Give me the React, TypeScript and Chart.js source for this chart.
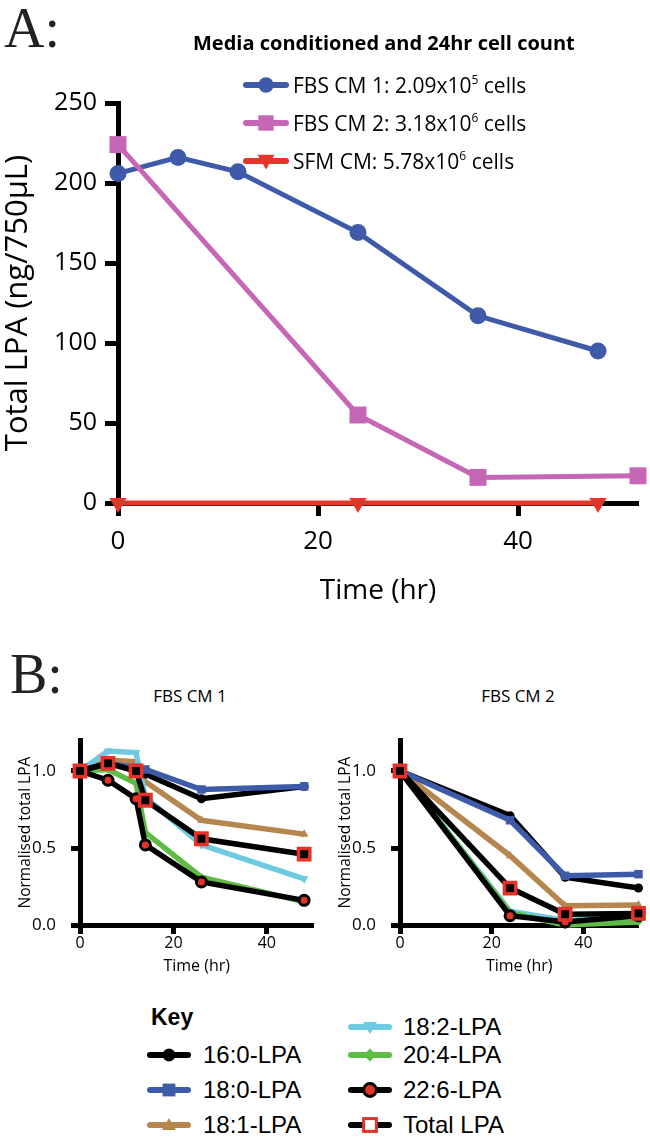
import React, { useEffect, useRef } from "react";
import { Chart, registerables } from "chart.js";
Chart.register(...registerables);

// ---------- Panel A data ----------
const timeA_cm1 = [0, 6, 12, 24, 36, 48];
const lpaA_cm1 = [206, 216, 207, 169, 117, 95];
const timeA_cm2 = [0, 24, 36, 52];
const lpaA_cm2 = [224, 55, 16, 17];
const timeA_sfm = [0, 24, 48];
const lpaA_sfm = [0, 0, 0];
const xTicksA = [0, 20, 40];
const yTicksA = [0, 50, 100, 150, 200, 250];
const legendA = [
  { name: "FBS CM 1", count: "2.09x10", exp: "5" },
  { name: "FBS CM 2", count: "3.18x10", exp: "6" },
  { name: "SFM CM", count: "5.78x10", exp: "6" },
];

// ---------- Panel B data ----------
const speciesNames = ["16:0-LPA", "18:0-LPA", "18:1-LPA", "18:2-LPA", "20:4-LPA", "22:6-LPA", "Total LPA"];
const timeB1 = [0, 6, 12, 14, 26, 48];
const b1_160 = [1.0, 1.05, 1.01, 0.98, 0.82, 0.9];
const b1_180 = [1.0, 1.05, 1.02, 1.01, 0.88, 0.9];
const b1_181 = [1.0, 1.07, 1.06, 0.93, 0.68, 0.59];
const b1_182 = [1.0, 1.13, 1.12, 0.83, 0.52, 0.3];
const b1_204 = [1.0, 1.01, 0.92, 0.6, 0.31, 0.15];
const b1_226 = [1.0, 0.94, 0.82, 0.52, 0.28, 0.16];
const b1_total = [1.0, 1.05, 1.0, 0.81, 0.56, 0.46];

const timeB2 = [0, 24, 36, 52];
const b2_160 = [1.0, 0.71, 0.31, 0.24];
const b2_180 = [1.0, 0.68, 0.32, 0.33];
const b2_181 = [1.0, 0.45, 0.125, 0.13];
const b2_182 = [1.0, 0.09, 0.03, 0.06];
const b2_204 = [1.0, 0.08, 0.0, 0.02];
const b2_226 = [1.0, 0.06, 0.02, 0.06];
const b2_total = [1.0, 0.24, 0.07, 0.075];
const xTicksB = [0, 20, 40];
const yTicksB = [0, 0.5, 1.0];

// ---------- styles ----------
const FONT = "'Open Sans', sans-serif";
const KEY_FONT = "'Liberation Sans', Arial, sans-serif";
const SERIF = "'Liberation Serif', 'Times New Roman', serif";
const blueA = "#3F5AA8";
const pinkA = "#C566B6";
const redA = "#E8352B";
const cBlack = "#000000";
const cBlue = "#3E5BAA";
const cBrown = "#B5864E";
const cCyan = "#6DCAE0";
const cGreen = "#5EBB46";
const cRed = "#E53228";

type Marker = "circle" | "square" | "triUp" | "triDown" | "diamond" | "total" | "dha";
const speciesStyle: { color: string; marker: Marker }[] = [
  { color: cBlack, marker: "circle" },
  { color: cBlue, marker: "square" },
  { color: cBrown, marker: "triUp" },
  { color: cCyan, marker: "triDown" },
  { color: cGreen, marker: "diamond" },
  { color: cBlack, marker: "dha" },
  { color: cBlack, marker: "total" },
];

function pts(xs: number[], ys: number[]) {
  return xs.map((x, i) => ({ x, y: ys[i] }));
}

function fixedTicks(vals: number[]) {
  return (s: any) => {
    s.ticks = vals.map((v) => ({ value: v }));
  };
}

function configA(): any {
  const axisGrid = { drawOnChartArea: false, drawTicks: true, tickLength: 13, tickWidth: 5, color: "#000" };
  return {
    type: "line",
    data: {
      datasets: [
        {
          label: "SFM CM", data: pts(timeA_sfm, lpaA_sfm), borderColor: redA, backgroundColor: redA,
          borderWidth: 5, pointStyle: "triangle", pointRotation: 180, pointRadius: 10, pointBorderWidth: 0, clip: false, order: 2,
        },
        {
          label: "FBS CM 2", data: pts(timeA_cm2, lpaA_cm2), borderColor: pinkA, backgroundColor: pinkA,
          borderWidth: 5, pointStyle: "rect", pointRadius: 12, pointBorderWidth: 0, clip: false, order: 0,
        },
        {
          label: "FBS CM 1", data: pts(timeA_cm1, lpaA_cm1), borderColor: blueA, backgroundColor: blueA,
          borderWidth: 5, pointStyle: "circle", pointRadius: 8.5, pointBorderWidth: 0, clip: false, order: 1,
        },
      ],
    },
    options: {
      responsive: false, animation: false, devicePixelRatio: 1,
      layout: { padding: { top: 103, right: 12, left: 0, bottom: 0 } },
      plugins: { legend: { display: false }, tooltip: { enabled: false } },
      elements: { line: { tension: 0 } },
      scales: {
        x: {
          type: "linear", min: 0, max: 52,
          afterBuildTicks: fixedTicks(xTicksA),
          afterFit: (s: any) => { s.height = 117; },
          grid: axisGrid,
          border: { display: true, color: "#000", width: 5 },
          ticks: { color: "#000", font: { family: FONT, size: 26 }, padding: 10 },
          title: { display: true, text: "Time (hr)", color: "#000", font: { family: FONT, size: 28 }, padding: { top: 0, bottom: 12 } },
        },
        y: {
          type: "linear", min: 0, max: 250,
          afterBuildTicks: fixedTicks(yTicksA),
          afterFit: (s: any) => { s.width = 118; },
          grid: axisGrid,
          border: { display: true, color: "#000", width: 5 },
          ticks: { color: "#000", font: { family: FONT, size: 25 }, padding: 8 },
          title: { display: true, text: "Total LPA (ng/750µL)", color: "#000", font: { family: FONT, size: 31 }, padding: { top: 0, bottom: 0 } },
        },
      },
    },
  };
}

function speciesDataset(i: number, xs: number[], ys: number[]): any {
  const st = speciesStyle[i];
  const base: any = {
    label: speciesNames[i], data: pts(xs, ys), borderColor: st.color, backgroundColor: st.color,
    borderWidth: 5.5, pointBorderWidth: 0, pointRadius: 5, clip: false,
  };
  switch (st.marker) {
    case "circle": base.pointStyle = "circle"; base.pointRadius = 4.5; break;
    case "square": base.pointStyle = "rect"; base.pointRadius = 6; break;
    case "triUp": base.pointStyle = "triangle"; base.pointRadius = 5; break;
    case "triDown": base.pointStyle = "triangle"; base.pointRotation = 180; base.pointRadius = 5; break;
    case "diamond": base.pointStyle = "rectRot"; base.pointRadius = 4; break;
    case "dha":
      base.pointStyle = "circle"; base.pointRadius = 5; base.pointBackgroundColor = cRed;
      base.pointBorderColor = cBlack; base.pointBorderWidth = 3; break;
    case "total":
      base.pointStyle = "rect"; base.pointRadius = 8; base.pointBackgroundColor = cBlack;
      base.pointBorderColor = cRed; base.pointBorderWidth = 3.5; break;
  }
  return base;
}

function configB(xs: number[], series: number[][], xmax: number, yWidth: number, padRight: number, titlePad: number): any {
  const axisGrid = { drawOnChartArea: false, drawTicks: true, tickLength: 9, tickWidth: 5, color: "#000" };
  // drawing order: top-most first
  const drawOrder = [6, 5, 1, 0, 4, 3, 2];
  const datasets = drawOrder.map((idx, k) => ({ ...speciesDataset(idx, xs, series[idx]), order: k }));
  return {
    type: "line",
    data: { datasets },
    options: {
      responsive: false, animation: false, devicePixelRatio: 1,
      layout: { padding: { top: 20, right: padRight, left: 0, bottom: 0 } },
      plugins: { legend: { display: false }, tooltip: { enabled: false } },
      elements: { line: { tension: 0 } },
      scales: {
        x: {
          type: "linear", min: 0, max: xmax,
          afterBuildTicks: fixedTicks(xTicksB),
          afterFit: (s: any) => { s.height = 57; },
          grid: axisGrid,
          border: { display: true, color: "#000", width: 5 },
          ticks: { color: "#000", font: { family: FONT, size: 16 }, padding: 0 },
          title: { display: true, text: "Time (hr)", color: "#000", font: { family: FONT, size: 16 }, padding: { top: 0, bottom: 6 } },
        },
        y: {
          type: "linear", min: 0, max: 1.2,
          afterBuildTicks: fixedTicks(yTicksB),
          afterFit: (s: any) => { s.width = yWidth; },
          grid: axisGrid,
          border: { display: true, color: "#000", width: 5 },
          ticks: { color: "#000", font: { family: FONT, size: 17 }, padding: 15, callback: (v: any) => Number(v).toFixed(1) },
          title: { display: true, text: "Normalised total LPA", color: "#000", font: { family: FONT, size: 15.5 }, padding: { top: titlePad, bottom: 0 } },
        },
      },
    },
  };
}

function ChartBox({ left, top, width, height, make }: { left: number; top: number; width: number; height: number; make: () => any }) {
  const ref = useRef<HTMLCanvasElement>(null);
  useEffect(() => {
    const chart = new Chart(ref.current as HTMLCanvasElement, make());
    return () => chart.destroy();
  }, []);
  return (
    <canvas ref={ref} width={width} height={height}
      style={{ position: "absolute", left, top, width, height, display: "block" }} />
  );
}

function MarkerSvg({ marker, color, size }: { marker: Marker; color: string; size: number }) {
  const c = size / 2;
  const r = size * 0.32;
  switch (marker) {
    case "circle": return <circle cx={c} cy={c} r={r} fill={color} />;
    case "square": return <rect x={c - r} y={c - r} width={2 * r} height={2 * r} fill={color} />;
    case "triUp": return <polygon points={`${c},${c - r * 1.1} ${c - r * 1.1},${c + r * 0.8} ${c + r * 1.1},${c + r * 0.8}`} fill={color} />;
    case "triDown": return <polygon points={`${c},${c + r * 1.1} ${c - r * 1.1},${c - r * 0.8} ${c + r * 1.1},${c - r * 0.8}`} fill={color} />;
    case "diamond": return <polygon points={`${c},${c - r} ${c + r},${c} ${c},${c + r} ${c - r},${c}`} fill={color} />;
    case "dha": return <circle cx={c} cy={c} r={r} fill={cRed} stroke={cBlack} strokeWidth={3} />;
    case "total": return <rect x={c - r} y={c - r} width={2 * r} height={2 * r} fill="#fff" stroke={cRed} strokeWidth={3} />;
  }
  return null;
}

function LegendSample({ left, cy, color, marker, w, h }: { left: number; cy: number; color: string; marker: Marker; w: number; h: number }) {
  return (
    <svg width={w} height={h} style={{ position: "absolute", left, top: cy - h / 2 }}>
      <line x1={3} x2={w - 3} y1={h / 2} y2={h / 2} stroke={color} strokeWidth={6} strokeLinecap="round" />
      <g transform={`translate(${w / 2 - h / 2},0)`}>
        <MarkerSvg marker={marker} color={color} size={h} />
      </g>
    </svg>
  );
}

export default function App() {
  const legendAStyle: { color: string; marker: Marker }[] = [
    { color: blueA, marker: "circle" },
    { color: pinkA, marker: "square" },
    { color: redA, marker: "triDown" },
  ];
  const legendARows = [85, 123, 161];
  const keyPos = [
    { col: 0, cy: 1055 },
    { col: 0, cy: 1090 },
    { col: 0, cy: 1125 },
    { col: 1, cy: 1027 },
    { col: 1, cy: 1055 },
    { col: 1, cy: 1090 },
    { col: 1, cy: 1125 },
  ];
  return (
    <div style={{ position: "absolute", left: 0, top: 0, width: 650, height: 1147, background: "#fff", overflow: "hidden" }}>
      <ChartBox left={0} top={0} width={650} height={620} make={configA} />
      <ChartBox left={0} top={715} width={325} height={267}
        make={() => configB(timeB1, [b1_160, b1_180, b1_181, b1_182, b1_204, b1_226, b1_total], 50, 80, 11, 16)} />
      <ChartBox left={325} top={715} width={325} height={267}
        make={() => configB(timeB2, [b2_160, b2_180, b2_181, b2_182, b2_204, b2_226, b2_total], 52, 75, 8, 11)} />

      <div style={{ position: "absolute", left: 4, top: 0, font: `56px ${SERIF}`, lineHeight: "56px", color: "#222" }}>A:</div>
      <div style={{ position: "absolute", left: 10, top: 646, font: `56px ${SERIF}`, lineHeight: "56px", color: "#222" }}>B:</div>

      <div style={{ position: "absolute", left: 193, top: 29, font: `bold 20px ${FONT}`, lineHeight: "28px", whiteSpace: "nowrap", color: "#000" }}>
        Media conditioned and 24hr cell count
      </div>
      {legendA.map((e, i) => (
        <React.Fragment key={e.name}>
          <LegendSample left={243} cy={legendARows[i]} color={legendAStyle[i].color} marker={legendAStyle[i].marker} w={46} h={24} />
          <div style={{ position: "absolute", left: 293, top: legendARows[i] - 15, font: `21px ${FONT}`, lineHeight: "30px", whiteSpace: "nowrap", color: "#000" }}>
            {e.name}: {e.count}
            <span style={{ fontSize: 12, position: "relative", top: -9 }}>{e.exp}</span> cells
          </div>
        </React.Fragment>
      ))}

      <div style={{ position: "absolute", left: 110, top: 684, width: 160, textAlign: "center", font: `17px ${FONT}`, lineHeight: "24px", color: "#000" }}>FBS CM 1</div>
      <div style={{ position: "absolute", left: 438, top: 684, width: 160, textAlign: "center", font: `17px ${FONT}`, lineHeight: "24px", color: "#000" }}>FBS CM 2</div>

      <div style={{ position: "absolute", left: 151, top: 1003, font: `bold 23px ${KEY_FONT}`, lineHeight: "28px", color: "#000" }}>Key</div>
      {speciesNames.map((n, i) => {
        const p = keyPos[i];
        const sx = p.col === 0 ? 147 : 348;
        const tx = p.col === 0 ? 203 : 403;
        return (
          <React.Fragment key={n}>
            <LegendSample left={sx} cy={p.cy} color={speciesStyle[i].color} marker={speciesStyle[i].marker} w={44} h={20} />
            <div style={{ position: "absolute", left: tx, top: p.cy - 15, font: `24px ${KEY_FONT}`, lineHeight: "30px", whiteSpace: "nowrap", color: "#000" }}>{n}</div>
          </React.Fragment>
        );
      })}
    </div>
  );
}
